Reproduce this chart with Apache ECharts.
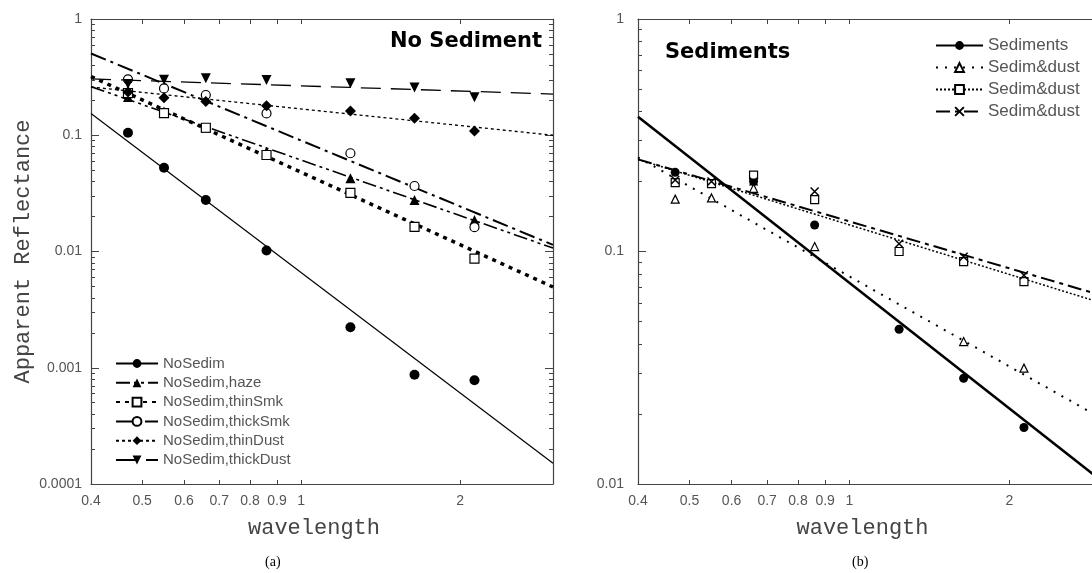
<!DOCTYPE html>
<html>
<head>
<meta charset="utf-8">
<script src="https://cdn.jsdelivr.net/npm/echarts@6/dist/echarts.min.js"></script>
<style>
  html, body { margin: 0; padding: 0; background: #fff; }
  #chart { width: 1092px; height: 573px; }
</style>
</head>
<body>
<div id="chart"></div>
<script>
// band centres, same for both panels
var wavelengths = [0.47, 0.55, 0.66, 0.86, 1.24, 1.64, 2.13];

// (a) no sediment
var noSedim   = [0.105, 0.0526, 0.0277, 0.0102, 0.00223, 0.00087, 0.00078];
var haze      = [0.213, 0.160, 0.116, 0.072, 0.0426, 0.0277, 0.0187];
var thinSmk   = [0.230, 0.155, 0.116, 0.0676, 0.032, 0.0163, 0.0087];
var thickSmk  = [0.303, 0.253, 0.222, 0.154, 0.070, 0.0366, 0.0162];
var thinDust  = [0.235, 0.210, 0.195, 0.179, 0.162, 0.140, 0.109];
var thickDust = [0.276, 0.300, 0.310, 0.299, 0.280, 0.258, 0.212];

// (b) sediments
var sediments = [0.219, 0.196, 0.200, 0.130, 0.0463, 0.0285, 0.0175];
var dustTri   = [0.168, 0.170, 0.187, 0.105, null, 0.041, 0.0315];
var dustSq    = [0.198, 0.196, 0.213, 0.167, 0.100, 0.0904, 0.0742];
var dustX     = [0.203, 0.200, 0.200, 0.181, 0.108, 0.095, 0.079];

// fitted lines: value at the two ends of the x range
var fitEnds      = [0.4, 3];
var fitNoSedim   = [0.154, 0.000151];
var fitHaze      = [0.262, 0.0107];
var fitThinSmk   = [0.320, 0.00495];
var fitThickSmk  = [0.505, 0.0114];
var fitThinDust  = [0.260, 0.100];
var fitThickDust = [0.305, 0.226];
var fitSediments = [0.380, 0.0102];
var fitTri       = [0.254, 0.0190];
var fitSq        = [0.249, 0.0598];
var fitX         = [0.249, 0.0645];

// ticks
var xTicks   = [0.4, 0.5, 0.6, 0.7, 0.8, 0.9, 1, 2, 3];
var xLabels  = [0.4, 0.5, 0.6, 0.7, 0.8, 0.9, 1, 2];
var yLabelsA = [0.0001, 0.001, 0.01, 0.1, 1];
var yLabelsB = [0.01, 0.1, 1];
var minorMult = [2, 3, 4, 5, 6, 7, 8, 9];

var legendA = ['NoSedim', 'NoSedim,haze', 'NoSedim,thinSmk', 'NoSedim,thickSmk', 'NoSedim,thinDust', 'NoSedim,thickDust'];
var legendB = ['Sediments', 'dust1', 'dust2', 'dust3'];
var legendBText = {Sediments: 'Sediments', dust1: 'Sedim&dust', dust2: 'Sedim&dust', dust3: 'Sedim&dust'};

var AX = '#444';
var crossPath = 'path://M0,0L10,10M10,0L0,10';

function minors(majors) {
  var out = [];
  for (var i = 0; i < majors.length - 1; i++) {
    minorMult.forEach(function (m) { out.push(+(majors[i] * m).toPrecision(3)); });
  }
  return out;
}
function fmt(v) { return String(+(+v).toPrecision(4)); }

function pts(ys) {
  var out = [];
  ys.forEach(function (y, i) { if (y != null) out.push([wavelengths[i], y]); });
  return out;
}
function fit(ends) {
  return [[fitEnds[0], ends[0]], [fitEnds[1], ends[1]]];
}

var xAxes = [], yAxes = [], series = [];

function makeAxes(g, yMin, yMax, yMajors, nameGapY) {
  var base = {
    type: 'log', gridIndex: g, min: 0.4, max: 3,
    splitLine: {show: false}, minorTick: {show: false}
  };
  xAxes.push(Object.assign({}, base, {
    position: 'bottom',
    name: 'wavelength', nameLocation: 'middle', nameGap: 33,
    nameTextStyle: {fontFamily: 'Liberation Mono', fontSize: 22, color: AX, padding: [0, 16, 0, 0]},
    axisLine: {lineStyle: {color: AX, width: 1.2}},
    axisTick: {inside: true, length: 4, customValues: xTicks, lineStyle: {color: AX}},
    axisLabel: {customValues: xLabels, margin: 10, fontFamily: 'Liberation Sans', fontSize: 14, color: '#555', formatter: fmt}
  }));
  xAxes.push(Object.assign({}, base, {
    position: 'top',
    axisLine: {lineStyle: {color: AX, width: 1.2}},
    axisTick: {inside: true, length: 5, customValues: xTicks, lineStyle: {color: AX}},
    axisLabel: {show: false}
  }));

  var yb = {
    type: 'log', gridIndex: g, min: yMin, max: yMax,
    splitLine: {show: false}, minorTick: {show: false}
  };
  var mins = minors(yMajors);
  // left, labelled
  yAxes.push(Object.assign({}, yb, {
    position: 'left',
    name: g === 0 ? 'Apparent Reflectance' : '',
    nameLocation: 'middle', nameRotate: 90, nameGap: nameGapY,
    nameTextStyle: {fontFamily: 'Liberation Mono', fontSize: 22, color: AX},
    axisLine: {lineStyle: {color: AX, width: 1.2}},
    axisTick: {inside: true, length: 8, customValues: yMajors, lineStyle: {color: AX}},
    axisLabel: {customValues: yMajors, margin: g === 0 ? 9 : 14, fontFamily: 'Liberation Sans', fontSize: 14, color: '#555', formatter: fmt}
  }));
  // left minor ticks
  yAxes.push(Object.assign({}, yb, {
    position: 'left',
    axisLine: {show: false},
    axisTick: {inside: true, length: 4, customValues: mins, lineStyle: {color: AX}},
    axisLabel: {show: false}
  }));
  // right mirror
  yAxes.push(Object.assign({}, yb, {
    position: 'right',
    axisLine: {lineStyle: {color: AX, width: 1.2}},
    axisTick: {inside: true, length: 8, customValues: yMajors, lineStyle: {color: AX}},
    axisLabel: {show: false}
  }));
  yAxes.push(Object.assign({}, yb, {
    position: 'right',
    axisLine: {show: false},
    axisTick: {inside: true, length: 4, customValues: mins, lineStyle: {color: AX}},
    axisLabel: {show: false}
  }));
}

function addSet(g, name, ys, ends, mark, line) {
  var itemStyle = {
    color: mark.empty ? '#fff' : '#000',
    borderColor: '#000',
    borderWidth: mark.border || 0,
    opacity: 1
  };
  if (mark.path) itemStyle.color = 'rgba(0,0,0,0)';
  series.push({
    name: name, type: 'line',
    xAxisIndex: g * 2, yAxisIndex: g * 4,
    data: fit(ends),
    showSymbol: false,
    symbol: mark.symbol, symbolRotate: mark.rotate || 0,
    itemStyle: itemStyle,
    lineStyle: {color: '#000', width: line.width, type: line.type || 'solid'},
    silent: true, z: 2
  });
  series.push({
    name: name + ' pts', type: 'scatter',
    xAxisIndex: g * 2, yAxisIndex: g * 4,
    data: pts(ys),
    symbol: mark.symbol, symbolSize: mark.size, symbolRotate: mark.rotate || 0,
    itemStyle: itemStyle,
    silent: true, z: 3
  });
}

makeAxes(0, 0.0001, 1, yLabelsA, 57);
makeAxes(1, 0.01, 1, yLabelsB, 45);

// (a)
addSet(0, 'NoSedim', noSedim, fitNoSedim, {symbol: 'circle', size: 10}, {width: 1.2});
addSet(0, 'NoSedim,haze', haze, fitHaze, {symbol: 'triangle', size: 10}, {width: 1.6, type: [14, 4, 3, 4, 3, 4]});
addSet(0, 'NoSedim,thinSmk', thinSmk, fitThinSmk, {symbol: 'rect', size: 9, empty: true, border: 1.2}, {width: 3.5, type: [4, 5]});
addSet(0, 'NoSedim,thickSmk', thickSmk, fitThickSmk, {symbol: 'circle', size: 9, empty: true, border: 1.2}, {width: 2, type: [16, 5, 3, 5]});
addSet(0, 'NoSedim,thinDust', thinDust, fitThinDust, {symbol: 'diamond', size: 11}, {width: 1.3, type: [3, 3]});
addSet(0, 'NoSedim,thickDust', thickDust, fitThickDust, {symbol: 'triangle', size: 10, rotate: 180}, {width: 1.3, type: [20, 10]});

// (b)
addSet(1, 'Sediments', sediments, fitSediments, {symbol: 'circle', size: 9}, {width: 2.5});
addSet(1, 'dust1', dustTri, fitTri, {symbol: 'triangle', size: 8, empty: true, border: 1.2}, {width: 2, type: [2, 7]});
addSet(1, 'dust2', dustSq, fitSq, {symbol: 'rect', size: 8, empty: true, border: 1.2}, {width: 1.5, type: [2, 2]});
addSet(1, 'dust3', dustX, fitX, {symbol: crossPath, size: 8, path: true, border: 1.5}, {width: 2, type: [14, 5, 4, 5]});

var chart = echarts.init(document.getElementById('chart'));
chart.setOption({
  backgroundColor: '#fff',
  animation: false,
  grid: [
    {left: 91, top: 19, width: 462, height: 465, outerBoundsMode: 'none', containLabel: false},
    {left: 638, top: 19, width: 465, height: 465, outerBoundsMode: 'none', containLabel: false}
  ],
  xAxis: xAxes,
  yAxis: yAxes,
  legend: [
    {
      data: legendA, orient: 'vertical', left: 110, top: 351,
      itemWidth: 42, itemHeight: 11, itemGap: 4.3, selectedMode: false,
      textStyle: {fontFamily: 'Liberation Sans', fontSize: 15, color: '#555'}
    },
    {
      data: legendB, orient: 'vertical', left: 930, top: 32,
      itemWidth: 47, itemHeight: 11, itemGap: 5, selectedMode: false,
      formatter: function (n) { return legendBText[n]; },
      textStyle: {fontFamily: 'Liberation Sans', fontSize: 17, color: '#555'}
    }
  ],
  graphic: [
    {type: 'text', left: 390, top: 31, style: {text: 'No Sediment', font: 'bold 21px "DejaVu Sans"', fill: '#000'}},
    {type: 'text', left: 665, top: 42, style: {text: 'Sediments', font: 'bold 21px "DejaVu Sans"', fill: '#000'}},
    {type: 'text', left: 265, top: 555, style: {text: '(a)', font: '14px "Liberation Serif"', fill: '#000'}},
    {type: 'text', left: 852, top: 555, style: {text: '(b)', font: '14px "Liberation Serif"', fill: '#000'}}
  ],
  series: series
});
</script>
</body>
</html>
